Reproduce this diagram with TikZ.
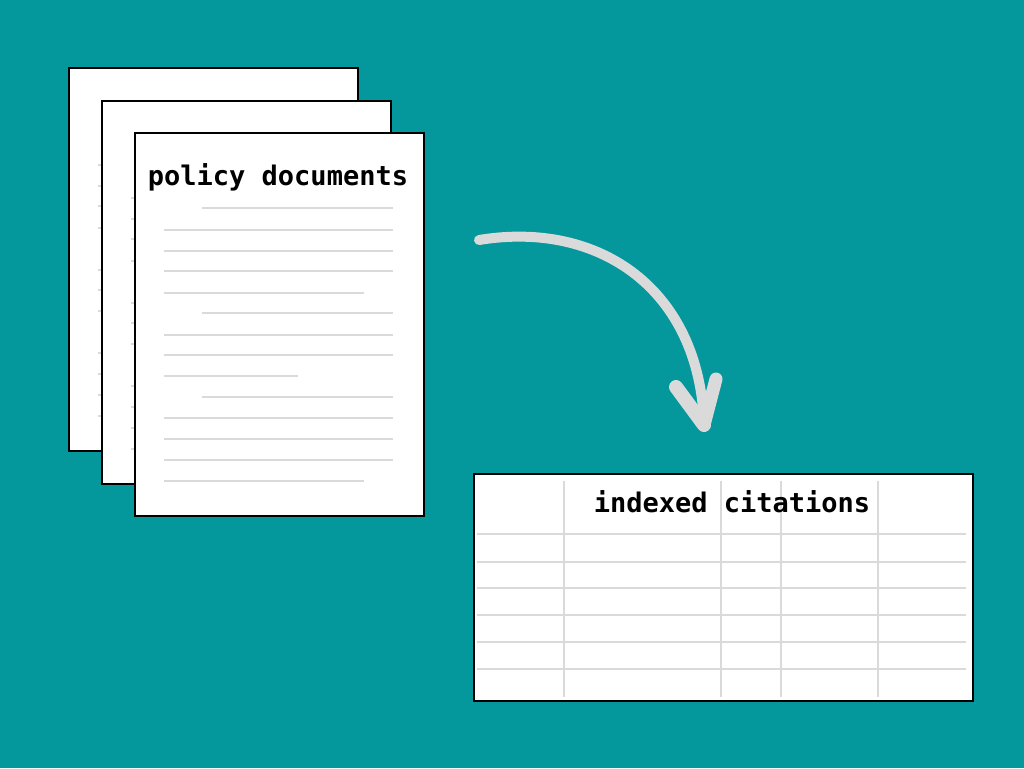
\documentclass[tikz,border=0pt]{standalone}
\usepackage{fontspec}
\setmonofont{DejaVu Sans Mono}
\usepackage{xcolor}
\usetikzlibrary{calc}

\definecolor{teal}{HTML}{04979C}
\definecolor{rulegray}{HTML}{DADADA}

\begin{document}
\begin{tikzpicture}[x=1pt, y=-1pt,
        page/.style = {draw, line width=2pt, fill=white, anchor=north west, inner sep=0pt, minimum width=289pt, minimum height=383pt},
        sheet/.style = {draw, line width=1.5pt, fill=white, anchor=north west, inner sep=0pt, minimum width=499pt, minimum height=227pt},
        label/.style = {font=\ttfamily\bfseries\fontsize{27pt}{30pt}\selectfont, anchor=base, inner sep=0pt},
        rule/.style = {rulegray, line width=2pt},
        arrowline/.style = {rulegray, line width=10pt, line cap=round}]
        \fill[teal] (0,0) rectangle (1024,768);
        \useasboundingbox (0,0) rectangle (1024,768);

        \foreach \px/\py/\n in {68/67/1, 101/100/2, 134/132/3} {
            \node[page] (page\n) at (\px,\py) {};
            \begin{scope}[shift={(page\n.north west)}]
                \foreach \a/\b/\y in {68/259/76, 30/259/98, 30/259/119, 30/259/139, 30/230/161,
                                      68/259/181, 30/259/203, 30/259/223, 30/164/244,
                                      68/259/265, 30/259/286, 30/259/307, 30/259/328, 30/230/349}
                    \draw[rule] (\a,\y) -- (\b,\y);
            \end{scope}
        }
        \node[label] (pagetitle) at ($(page3.north west)+(144,53)$) {policy documents};

        \node[sheet] (table) at (473,473) {};
        \foreach \y in {534, 562, 588, 615, 642, 669}
            \draw[rule] (477,\y) -- (966,\y);
        \foreach \x in {564, 721, 781, 878}
            \draw[rule] (\x,481) -- (\x,697);
        \node[label] (tabletitle) at (732,512) {indexed citations};

        \coordinate (arrowfrom) at (479,240);
        \coordinate (arrowto) at (704,425);
        \coordinate (headleft) at (676,387);
        \coordinate (headright) at (716,379);
        \draw[arrowline] (arrowfrom) .. controls (600,220) and (700,290) .. (arrowto);
        \draw[arrowline, line width=14pt] (headleft) -- (arrowto);
        \draw[arrowline, line width=13pt] (headright) -- (arrowto);

    \end{tikzpicture}
\end{document}
